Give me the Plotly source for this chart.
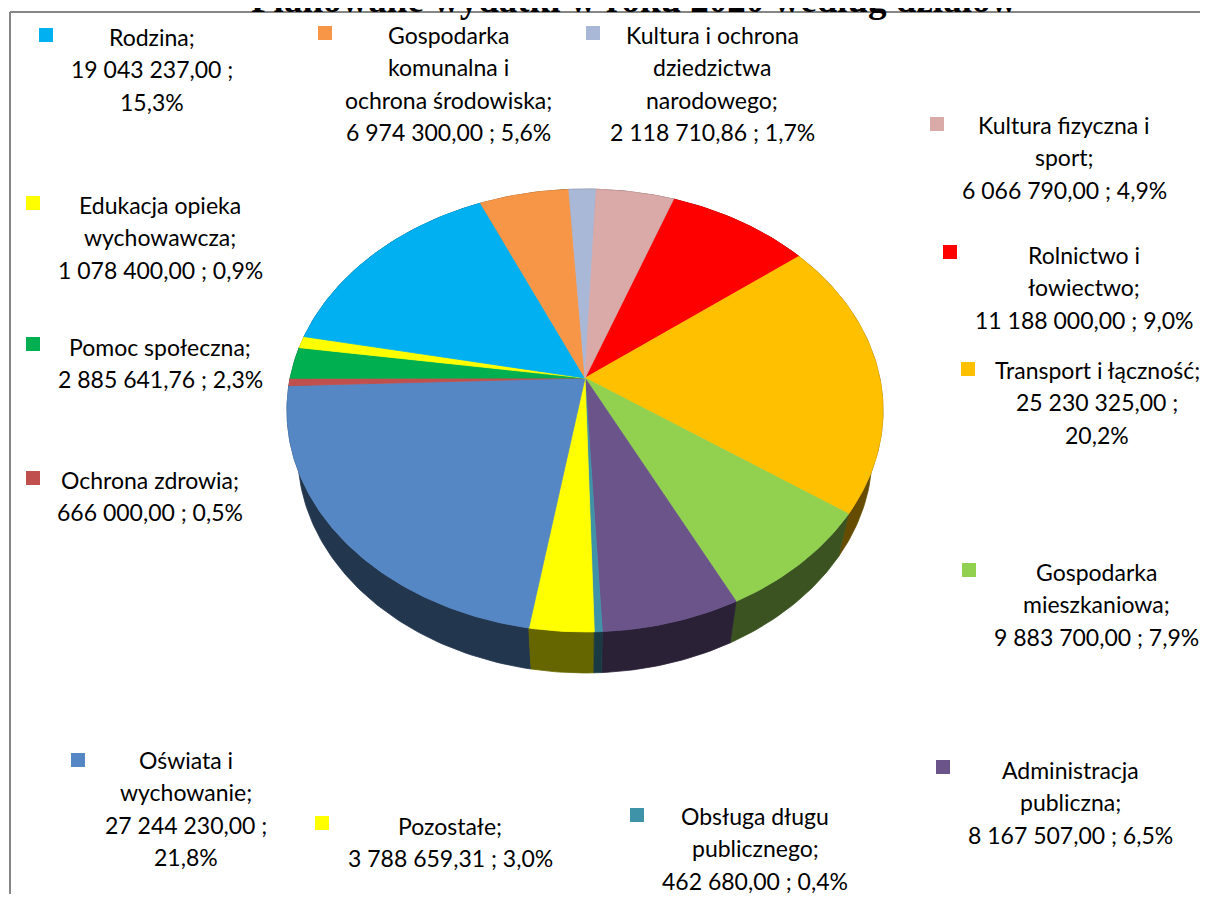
import numpy as np
import plotly.graph_objects as go

# ---------------- data ----------------
title = "Planowane wydatki w roku 2020 według działów"
categories = [
    "Rolnictwo i łowiectwo",
    "Transport i łączność",
    "Gospodarka mieszkaniowa",
    "Administracja publiczna",
    "Obsługa długu publicznego",
    "Pozostałe",
    "Oświata i wychowanie",
    "Ochrona zdrowia",
    "Pomoc społeczna",
    "Edukacja opieka wychowawcza",
    "Rodzina",
    "Gospodarka komunalna i ochrona środowiska",
    "Kultura i ochrona dziedzictwa narodowego",
    "Kultura fizyczna i sport",
]
values = [
    11188000.00,
    25230325.00,
    9883700.00,
    8167507.00,
    462680.00,
    3788659.31,
    27244230.00,
    666000.00,
    2885641.76,
    1078400.00,
    19043237.00,
    6974300.00,
    2118710.86,
    6066790.00,
]
colors = [
    "#FF0000", "#FFC000", "#92D050", "#6B548A", "#3F93A8", "#FFFF00", "#5587C4",
    "#C0504D", "#00B050", "#FFFF00", "#00B0F0", "#F79646", "#AAB8D8", "#D9AAA8",
]

# label wrapping (as in the original chart)
name_lines = [
    ["Rolnictwo i", "łowiectwo"],
    ["Transport i łączność"],
    ["Gospodarka", "mieszkaniowa"],
    ["Administracja", "publiczna"],
    ["Obsługa długu", "publicznego"],
    ["Pozostałe"],
    ["Oświata i", "wychowanie"],
    ["Ochrona zdrowia"],
    ["Pomoc społeczna"],
    ["Edukacja opieka", "wychowawcza"],
    ["Rodzina"],
    ["Gospodarka", "komunalna i", "ochrona środowiska"],
    ["Kultura i ochrona", "dziedzictwa", "narodowego"],
    ["Kultura fizyczna i", "sport"],
]
split_value = [False, True, False, False, False, False, True, False, False, False, True, False, False, False]

# ---------------- layout of labels (screen pixels) ----------------
# (marker x, marker y, text centre x, first line y)
label_pos = [
    (950, 252, 1084, 255),
    (968, 369, 1097, 370),
    (969, 570, 1096, 572),
    (943, 767, 1070, 770),
    (637, 815, 755, 816),
    (322, 823, 450, 826),
    (78, 760, 186, 760),
    (33, 478, 150, 480),
    (33, 344, 160, 347),
    (33, 203, 160, 205),
    (46, 35, 152, 37),
    (325, 33, 448, 35),
    (593, 33, 712, 35),
    (937, 124, 1064, 125),
]
LINE_H = 32.3

# page body has an 8px margin; figure fills the rest of the 1208x902 window
OFF = 8
W, H = 1208 - 2 * OFF, 902 - 2 * OFF

# ---------------- 3D pie projection ----------------
CX, CY = 585.0, 378.0
tilt = np.deg2rad(47.3)
c, s = np.cos(tilt), np.sin(tilt)
DIST = 4.618
FOC = 1361.3
THICK = 0.2286
START = np.deg2rad(20.0)


def proj(phi, Y):
    X = np.sin(phi)
    Z = np.cos(phi)
    yc = Y * c + Z * s
    zc = DIST + Z * c - Y * s
    return CX + FOC * X / zc, CY - FOC * yc / zc


def darker(hexcol, f=0.4):
    h = hexcol.lstrip("#")
    r, g, b = (int(h[i:i + 2], 16) for i in (0, 2, 4))
    return "rgb(%d,%d,%d)" % (r * f, g * f, b * f)


total = float(np.sum(values))
fr = np.array(values) / total
cum = np.concatenate([[0], np.cumsum(fr)])
a0s = START + 2 * np.pi * cum[:-1]
a1s = START + 2 * np.pi * cum[1:]

fig = go.Figure()

# side walls, far first
order = sorted(range(len(values)), key=lambda i: -np.max(np.cos(np.linspace(a0s[i], a1s[i], 50))))
for i in order:
    ph = np.linspace(a0s[i], a1s[i], max(6, int(fr[i] * 400)))
    xt, yt = proj(ph, 0.0)
    xb, yb = proj(ph, -THICK)
    xs = np.concatenate([xt, xb[::-1], xt[:1]])
    ys = np.concatenate([yt, yb[::-1], yt[:1]])
    col = darker(colors[i])
    fig.add_trace(go.Scatter(x=xs, y=ys, mode="lines", fill="toself", fillcolor=col,
                             line=dict(color=col, width=0.8), hoverinfo="skip", showlegend=False))

# top faces
for i in range(len(values)):
    ph = np.linspace(a0s[i], a1s[i], max(6, int(fr[i] * 400)))
    xt, yt = proj(ph, 0.0)
    xs = np.concatenate([[CX], xt, [CX]])
    ys = np.concatenate([[CY], yt, [CY]])
    fig.add_trace(go.Scatter(x=xs, y=ys, mode="lines", fill="toself", fillcolor=colors[i],
                             line=dict(color=colors[i], width=0.8), hoverinfo="skip", showlegend=False))

# legend keys next to labels
fig.add_trace(go.Scatter(
    x=[p[0] for p in label_pos], y=[p[1] for p in label_pos], mode="markers",
    marker=dict(symbol="square", size=14, color=colors, line=dict(width=0)),
    hoverinfo="skip", showlegend=False))


def fmt_val(v):
    return f"{v:,.2f}".replace(",", " ").replace(".", ",")


def fmt_pct(v):
    return f"{v / total * 100:.1f}%".replace(".", ",")


annotations = []
for i in range(len(values)):
    lines = name_lines[i][:-1] + [name_lines[i][-1] + ";"]
    if split_value[i]:
        lines += [fmt_val(values[i]) + " ;", fmt_pct(values[i])]
    else:
        lines += [fmt_val(values[i]) + " ; " + fmt_pct(values[i])]
    _, _, tx, ty = label_pos[i]
    for k, ln in enumerate(lines):
        annotations.append(dict(x=tx, y=ty + k * LINE_H, xref="x", yref="y", text=ln,
                                showarrow=False, xanchor="center", yanchor="middle",
                                font=dict(family="Lato", size=23, color="#000000")))

annotations.append(dict(x=634, y=22, xref="x", yref="y", text="<b>" + title + "</b>",
                        showarrow=False, xanchor="center", yanchor="bottom",
                        font=dict(family="Liberation Serif", size=37, color="#000000")))

fig.update_layout(
    width=W, height=H,
    margin=dict(l=0, r=0, t=0, b=0),
    paper_bgcolor="white", plot_bgcolor="white",
    xaxis=dict(range=[OFF, OFF + W], visible=False, fixedrange=True),
    yaxis=dict(range=[OFF + H, OFF], visible=False, fixedrange=True),
    annotations=annotations,
    shapes=[
        dict(type="line", xref="x", yref="y", x0=10, y0=12, x1=OFF + W + 20, y1=12,
             line=dict(color="#868686", width=2), layer="below"),
        dict(type="line", xref="x", yref="y", x0=10, y0=12, x1=10, y1=OFF + H + 20,
             line=dict(color="#868686", width=2), layer="below"),
    ],
)

fig.write_html("out.html")
